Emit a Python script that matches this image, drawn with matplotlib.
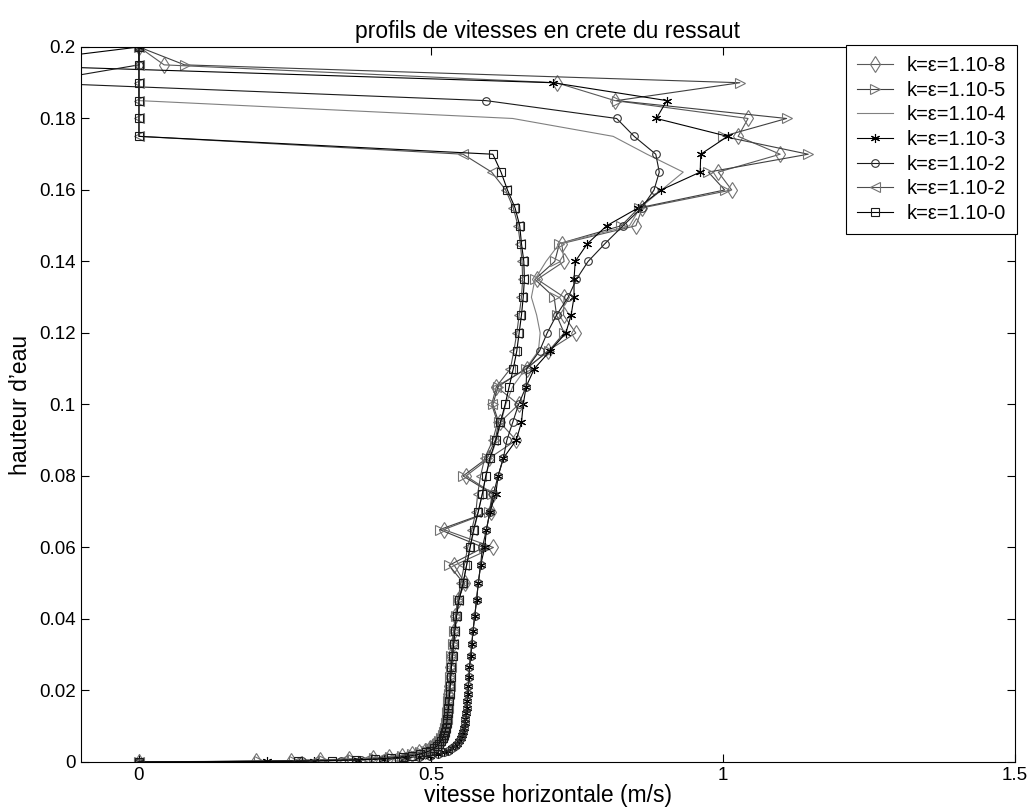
import matplotlib
matplotlib.use("Agg")
import matplotlib.pyplot as plt

plt.rcParams['font.family'] = ['Liberation Sans', 'DejaVu Sans']

# Heights (m): regular mesh in the upper part, refined mesh near the bed
y_upper = [0.2, 0.195, 0.19, 0.185, 0.18, 0.175, 0.17, 0.165, 0.16, 0.155,
           0.15, 0.145, 0.14, 0.135, 0.13, 0.125, 0.12, 0.115, 0.11, 0.105,
           0.1, 0.095, 0.09, 0.085, 0.08, 0.075, 0.07, 0.065, 0.06, 0.055, 0.05]
y_wall = [0.0452, 0.0408, 0.0367, 0.033, 0.0296, 0.0265, 0.0237, 0.0212, 0.019,
          0.017, 0.0152, 0.0136, 0.0121, 0.0108, 0.0096, 0.0085, 0.0075, 0.0066,
          0.0058, 0.0051, 0.0044, 0.0038, 0.0032, 0.0027, 0.0022, 0.0018, 0.0014,
          0.0011, 0.0008, 0.0006, 0.0004, 0.0002, 0.0]

labels = ['k=\u03b5=1.10-8', 'k=\u03b5=1.10-5', 'k=\u03b5=1.10-4', 'k=\u03b5=1.10-3',
          'k=\u03b5=1.10-2', 'k=\u03b5=1.10-2', 'k=\u03b5=1.10-0']

# horizontal velocity (m/s), upper part
u_e8_up = [0, 0.043, 0.715, 0.815, 1.043, 1.026, 1.098, 0.992, 1.015, 0.862,
           0.851, 0.724, 0.728, 0.682, 0.728, 0.727, 0.748, 0.700, 0.664, 0.612,
           0.650, 0.618, 0.646, 0.600, 0.560, 0.607, 0.602, 0.522, 0.607, 0.540, 0.558]
u_e5_up = [0, 0.078, 1.029, 0.818, 1.109, 1.000, 1.146, 0.975, 1.003, 0.856,
           0.826, 0.720, 0.712, 0.678, 0.711, 0.715, 0.728, 0.702, 0.662, 0.615,
           0.606, 0.616, 0.610, 0.596, 0.555, 0.605, 0.600, 0.515, 0.590, 0.531, 0.556]
u_e4_up = [0, 0, 0, 0, 0.640, 0.812, 0.870, 0.932, 0.895, 0.858,
           0.840, 0.720, 0.697, 0.678, 0.672, 0.681, 0.687, 0.684, 0.662, 0.640,
           0.628, 0.620, 0.612, 0.602, 0.594, 0.588, 0.581, 0.574, 0.567, 0.561, 0.555]
u_e3_up = [0, -0.25, 0.709, 0.904, 0.886, 1.008, 0.962, 0.961, 0.894, 0.855,
           0.801, 0.768, 0.747, 0.745, 0.745, 0.740, 0.731, 0.704, 0.677, 0.663,
           0.658, 0.655, 0.646, 0.624, 0.615, 0.611, 0.601, 0.595, 0.592, 0.585, 0.581]
u_e2_up = [0, 0, -0.18, 0.594, 0.818, 0.848, 0.885, 0.891, 0.882, 0.861,
           0.829, 0.798, 0.769, 0.749, 0.735, 0.715, 0.699, 0.686, 0.664, 0.663,
           0.650, 0.640, 0.630, 0.624, 0.615, 0.607, 0.601, 0.595, 0.588, 0.585, 0.581]
u_e2b_up = [0, 0, 0, 0, 0, 0, 0.555, 0.604, 0.628, 0.641,
            0.649, 0.653, 0.656, 0.657, 0.655, 0.651, 0.647, 0.642, 0.636, 0.612,
            0.604, 0.614, 0.606, 0.592, 0.585, 0.580, 0.577, 0.570, 0.563, 0.557, 0.551]
u_e0_up = [0, 0, 0, 0, 0, 0, 0.606, 0.620, 0.631, 0.644,
           0.652, 0.655, 0.659, 0.660, 0.658, 0.655, 0.651, 0.647, 0.641, 0.634,
           0.627, 0.619, 0.611, 0.601, 0.594, 0.588, 0.581, 0.573, 0.567, 0.561, 0.555]

# horizontal velocity (m/s), near-bed part
u_e8_w = [0.546, 0.542, 0.539, 0.537, 0.535, 0.533, 0.532, 0.531, 0.530, 0.529,
          0.528, 0.527, 0.526, 0.525, 0.523, 0.521, 0.519, 0.516, 0.513, 0.509,
          0.504, 0.498, 0.490, 0.480, 0.467, 0.450, 0.428, 0.400, 0.360, 0.310,
          0.260, 0.200, 0.0]
u_e5_w = [0.547, 0.543, 0.540, 0.537, 0.535, 0.534, 0.533, 0.532, 0.531, 0.530,
          0.529, 0.528, 0.527, 0.526, 0.524, 0.522, 0.520, 0.517, 0.514, 0.510,
          0.505, 0.499, 0.491, 0.481, 0.468, 0.451, 0.430, 0.402, 0.365, 0.315,
          0.265, 0.205, 0.0]
u_e4_w = [0.547, 0.543, 0.540, 0.538, 0.536, 0.534, 0.533, 0.532, 0.531, 0.530,
          0.529, 0.528, 0.527, 0.526, 0.524, 0.522, 0.520, 0.517, 0.514, 0.510,
          0.505, 0.499, 0.491, 0.481, 0.468, 0.451, 0.430, 0.402, 0.365, 0.315,
          0.265, 0.150, 0.0]
u_e3_w = [0.578, 0.575, 0.572, 0.570, 0.568, 0.566, 0.565, 0.564, 0.563, 0.562,
          0.561, 0.560, 0.559, 0.558, 0.557, 0.555, 0.553, 0.551, 0.548, 0.545,
          0.541, 0.536, 0.530, 0.522, 0.512, 0.498, 0.480, 0.455, 0.420, 0.375,
          0.300, 0.220, 0.0]
u_e2_w = [0.578, 0.575, 0.572, 0.570, 0.568, 0.566, 0.565, 0.564, 0.563, 0.562,
          0.561, 0.560, 0.559, 0.558, 0.557, 0.555, 0.553, 0.551, 0.548, 0.545,
          0.541, 0.536, 0.530, 0.522, 0.512, 0.498, 0.480, 0.455, 0.420, 0.380,
          0.346, 0.280, 0.0]
u_e2b_w = [0.546, 0.542, 0.539, 0.537, 0.535, 0.534, 0.533, 0.532, 0.531, 0.530,
           0.529, 0.528, 0.527, 0.526, 0.524, 0.522, 0.520, 0.517, 0.514, 0.510,
           0.505, 0.499, 0.491, 0.481, 0.468, 0.452, 0.436, 0.415, 0.390, 0.350,
           0.300, 0.270, 0.0]
u_e0_w = [0.548, 0.544, 0.541, 0.539, 0.537, 0.535, 0.534, 0.533, 0.532, 0.531,
          0.530, 0.529, 0.528, 0.527, 0.526, 0.524, 0.522, 0.520, 0.517, 0.514,
          0.510, 0.505, 0.499, 0.491, 0.481, 0.468, 0.452, 0.432, 0.405, 0.372,
          0.330, 0.272, 0.0]

# (upper, wall, marker, markersize, line colour, marker colour)
series = [
    (u_e8_up, u_e8_w, 'd', 8.0, '0.35', '0.45'),
    (u_e5_up, u_e5_w, '>', 7.0, '0.25', '0.45'),
    (u_e4_up, u_e4_w, 'None', 6, '0.5', '0.5'),
    (u_e3_up, u_e3_w, (6, 2, 0), 6.5, '0.0', '0.0'),
    (u_e2_up, u_e2_w, 'o', 5.5, '0.1', '0.2'),
    (u_e2b_up, u_e2b_w, '<', 7.0, '0.3', '0.45'),
    (u_e0_up, u_e0_w, 's', 5.8, '0.0', '0.1'),
]

fig = plt.figure(figsize=(10.33, 8.10), dpi=100)
ax = fig.add_axes([0.078, 0.0593, 0.9045, 0.8827])

y_all = y_upper + y_wall
for (up, w, mk, ms, lc, mc), lab in zip(series, labels):
    ax.plot(up + w, y_all, color=lc, lw=0.8, marker=mk, markersize=ms,
            markerfacecolor='none', markeredgecolor=mc, markeredgewidth=0.8,
            label=lab)

ax.set_xlim(-0.1, 1.5)
ax.set_ylim(0, 0.2)
ax.set_xticks([0, 0.5, 1, 1.5])
ax.set_xticklabels(['0', '0.5', '1', '1.5'])
yt = [0, 0.02, 0.04, 0.06, 0.08, 0.1, 0.12, 0.14, 0.16, 0.18, 0.2]
ax.set_yticks(yt)
ax.set_yticklabels(['0', '0.02', '0.04', '0.06', '0.08', '0.1', '0.12', '0.14',
                    '0.16', '0.18', '0.2'])
ax.tick_params(direction='in', length=6, width=0.8, top=True, right=True,
               labelsize=13.5, pad=3.5)
for s in ax.spines.values():
    s.set_linewidth(0.8)

ax.set_title('profils de vitesses en crete du ressaut', fontsize=16.5, pad=6.5)
ax.set_xlabel('vitesse horizontale (m/s)', fontsize=16.5, labelpad=0)
ax.set_ylabel("hauteur d\u2019eau", fontsize=16.5, labelpad=5)

leg = ax.legend(loc='upper right', borderaxespad=-0.1, fancybox=False,
                edgecolor='black', framealpha=1, fontsize=14.5,
                handlelength=1.8, labelspacing=0.28, borderpad=0.55,
                handletextpad=0.65)
leg.get_frame().set_linewidth(0.8)

fig.savefig('out.png', dpi=100)
